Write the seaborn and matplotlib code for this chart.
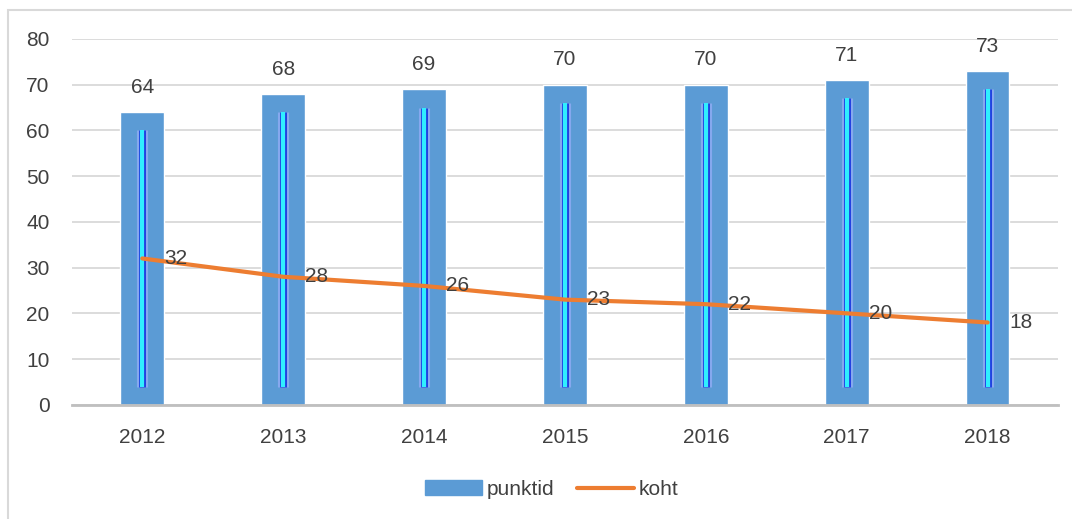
import matplotlib
matplotlib.use("Agg")
import matplotlib.pyplot as plt
import matplotlib.patches as mpatches
import numpy as np
import pandas as pd
import seaborn as sns

years = ["2012", "2013", "2014", "2015", "2016", "2017", "2018"]
punktid = [64, 68, 69, 70, 70, 71, 73]
koht = [32, 28, 26, 23, 22, 20, 18]

df = pd.DataFrame({"year": years, "punktid": punktid, "koht": koht})

sns.set_style("white")
plt.rcParams["font.family"] = ["Liberation Sans", "DejaVu Sans"]
txt = "#404040"
fs = 15

fig = plt.figure(figsize=(10.72, 5.19), dpi=100)
ax = fig.add_axes([0.067, 0.22, 0.92, 0.705])

sns.barplot(data=df, x="year", y="punktid", color="#5B9BD5", saturation=1,
            width=0.31, ax=ax, zorder=2)

# glossy inner stripe seen in the original bars
xs = np.arange(len(years))
for x, v in zip(xs, punktid):
    ax.vlines(x, 4, v - 4, color="#86A8EE", lw=8, zorder=3)
    ax.vlines(x, 4, v - 4, color="#2040E0", lw=5, zorder=3)
    ax.vlines(x, 4, v - 4, color="#30EEFF", lw=3, zorder=4)

sns.lineplot(x=xs, y=koht, color="#ED7D31", lw=3, ax=ax, zorder=5,
             solid_capstyle="round")

for x, v in zip(xs, punktid):
    ax.annotate(str(v), (x, v), xytext=(0, 11), textcoords="offset points",
                ha="center", va="bottom", fontsize=fs, color=txt)
for x, v in zip(xs, koht):
    ax.annotate(str(v), (x, v), xytext=(16, 0), textcoords="offset points",
                ha="left", va="center", fontsize=fs, color=txt, zorder=6)

ax.set_ylim(0, 80)
ax.set_yticks(range(0, 81, 10))
ax.set_xlim(-0.5, len(years) - 0.5)
ax.yaxis.grid(True, color="#D9D9D9", lw=1.3, zorder=0)
ax.set_axisbelow(True)
for s in ["top", "right", "left"]:
    ax.spines[s].set_visible(False)
ax.spines["bottom"].set_color("#BFBFBF")
ax.spines["bottom"].set_linewidth(2)
ax.tick_params(axis="both", length=0, labelsize=fs, labelcolor=txt)
ax.tick_params(axis="y", pad=16)
ax.tick_params(axis="x", pad=17)
ax.set_xlabel("")
ax.set_ylabel("")

handles = [mpatches.Patch(color="#5B9BD5", label="punktid"),
           plt.Line2D([], [], color="#ED7D31", lw=3, solid_capstyle="round", label="koht")]
fig.legend(handles=handles, loc="center", bbox_to_anchor=(0.515, 0.057), ncol=2,
           frameon=False, fontsize=fs, labelcolor=txt, handlelength=2.7,
           handletextpad=0.25, columnspacing=1.1)

fig.patches.append(mpatches.Rectangle((8 / 1072, -0.1), 1.2, 1 - 10 / 519 + 0.1,
                                      transform=fig.transFigure, fill=False,
                                      edgecolor="#D9D9D9", lw=1.5))

fig.savefig("out.png", dpi=100)
